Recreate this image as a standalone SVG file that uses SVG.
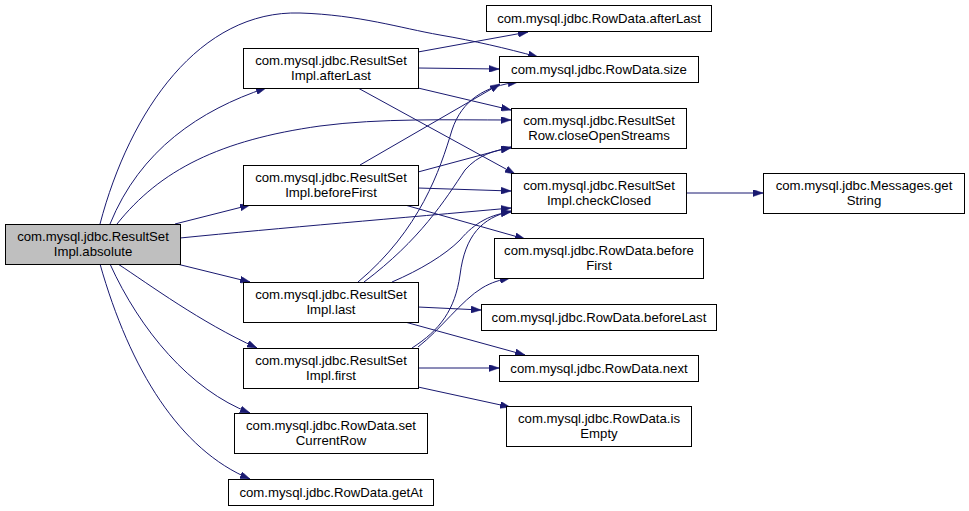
<svg xmlns="http://www.w3.org/2000/svg" width="969" height="511" viewBox="0 0 969 511">
<style>
.n rect{fill:#fff;stroke:#000;stroke-width:1}
.n.h rect{fill:#bfbfbf}
.n text{font-family:"Liberation Sans",Arial,sans-serif;font-size:13.2px;fill:#000;text-anchor:middle}
.e path{fill:none;stroke:#191970;stroke-width:1;marker-end:url(#a)}
</style>
<defs>
<marker id="a" viewBox="0 0 10 7" markerWidth="10" markerHeight="7" refX="10" refY="3.5" orient="auto" markerUnits="userSpaceOnUse">
<path d="M0,0 L10,3.5 L0,7 z" fill="#191970" stroke="#191970" stroke-width="0.5"/>
</marker>
</defs>
<rect width="969" height="511" fill="#fff"/>
<g id="edges" class="e">
<path d="M100,224 C130,110 200,10 300,13 C360,15 400,28 440,35 C475,41 505,48 538,57"/>
<path d="M110,224 C140,150 200,110 266,88"/>
<path d="M117,224 C160,170 220,140 320,126 C380,118 450,120 511,120"/>
<path d="M175,224 L250,205"/>
<path d="M180,238 C280,228 400,218 511,208"/>
<path d="M177,264 L250,282"/>
<path d="M118,264 C150,285 200,322 257,348"/>
<path d="M110,264 C140,330 190,390 250,413"/>
<path d="M100,264 C130,370 180,450 250,479"/>
<path d="M418,52 L528,32"/>
<path d="M418,68 L499,69"/>
<path d="M418,88 L511,110"/>
<path d="M358,88 L515,174"/>
<path d="M360,165 L500,84"/>
<path d="M418,172 L511,147"/>
<path d="M418,188 L511,191"/>
<path d="M405,205 L525,239"/>
<path d="M358,282 C420,230 440,170 452,130 C462,100 485,86 518,82"/>
<path d="M364,282 C420,240 445,200 465,170 C478,155 495,150 511,148"/>
<path d="M392,282 C420,270 445,255 460,240 C475,222 492,214 511,212"/>
<path d="M418,307 L481,310"/>
<path d="M405,322 L525,355"/>
<path d="M412,348 C440,330 455,310 460,275 C465,235 482,218 511,211"/>
<path d="M418,347 C440,330 462,300 482,288 C492,282 500,280 510,278"/>
<path d="M418,368 L499,368"/>
<path d="M418,387 L510,407"/>
<path d="M686,193 L763,193"/>
</g>
<g id="absolute" class="n h"><rect x="5.5" y="224.5" width="175" height="40"/><text x="93" y="241">com.mysql.jdbc.ResultSet</text><text x="93" y="255.5">Impl.absolute</text></g>
<g id="afterLast" class="n"><rect x="243.5" y="48.5" width="175" height="40"/><text x="331" y="65">com.mysql.jdbc.ResultSet</text><text x="331" y="79.5">Impl.afterLast</text></g>
<g id="beforeFirst" class="n"><rect x="243.5" y="165.5" width="175" height="40"/><text x="331" y="182">com.mysql.jdbc.ResultSet</text><text x="331" y="196.5">Impl.beforeFirst</text></g>
<g id="last" class="n"><rect x="243.5" y="282.5" width="175" height="40"/><text x="331" y="299">com.mysql.jdbc.ResultSet</text><text x="331" y="313.5">Impl.last</text></g>
<g id="first" class="n"><rect x="243.5" y="348.5" width="175" height="40"/><text x="331" y="365">com.mysql.jdbc.ResultSet</text><text x="331" y="379.5">Impl.first</text></g>
<g id="setCurrentRow" class="n"><rect x="234.5" y="413.5" width="193" height="40"/><text x="331" y="430">com.mysql.jdbc.RowData.set</text><text x="331" y="444.5">CurrentRow</text></g>
<g id="getAt" class="n"><rect x="228.5" y="479.5" width="205" height="26"/><text x="331" y="496.5">com.mysql.jdbc.RowData.getAt</text></g>
<g id="rdAfterLast" class="n"><rect x="486.5" y="5.5" width="225" height="26"/><text x="599" y="22.5">com.mysql.jdbc.RowData.afterLast</text></g>
<g id="size" class="n"><rect x="499.5" y="56.5" width="199" height="26"/><text x="599" y="73.5">com.mysql.jdbc.RowData.size</text></g>
<g id="closeOpenStreams" class="n"><rect x="511.5" y="108.5" width="175" height="40"/><text x="599" y="125">com.mysql.jdbc.ResultSet</text><text x="599" y="139.5">Row.closeOpenStreams</text></g>
<g id="checkClosed" class="n"><rect x="511.5" y="173.5" width="175" height="40"/><text x="599" y="190">com.mysql.jdbc.ResultSet</text><text x="599" y="204.5">Impl.checkClosed</text></g>
<g id="getString" class="n"><rect x="763.5" y="173.5" width="201" height="40"/><text x="864" y="190">com.mysql.jdbc.Messages.get</text><text x="864" y="204.5">String</text></g>
<g id="rdBeforeFirst" class="n"><rect x="494.5" y="238.5" width="209" height="40"/><text x="599" y="255">com.mysql.jdbc.RowData.before</text><text x="599" y="269.5">First</text></g>
<g id="beforeLast" class="n"><rect x="481.5" y="304.5" width="235" height="26"/><text x="599" y="321.5">com.mysql.jdbc.RowData.beforeLast</text></g>
<g id="next" class="n"><rect x="499.5" y="355.5" width="199" height="26"/><text x="599" y="372.5">com.mysql.jdbc.RowData.next</text></g>
<g id="isEmpty" class="n"><rect x="506.5" y="406.5" width="185" height="40"/><text x="599" y="423">com.mysql.jdbc.RowData.is</text><text x="599" y="437.5">Empty</text></g>
</svg>
